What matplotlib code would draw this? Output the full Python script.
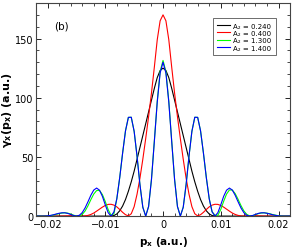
import matplotlib
matplotlib.use("Agg")
import matplotlib.pyplot as plt
from matplotlib.ticker import MultipleLocator

px = [-0.0220, -0.0215, -0.0210, -0.0205, -0.0200, -0.0195, -0.0190, -0.0185, -0.0180,
      -0.0175, -0.0170, -0.0165, -0.0160, -0.0155, -0.0150, -0.0145, -0.0140, -0.0135,
      -0.0130, -0.0125, -0.0120, -0.0115, -0.0110, -0.0105, -0.0100, -0.0095, -0.0090,
      -0.0085, -0.0080, -0.0075, -0.0070, -0.0065, -0.0060, -0.0055, -0.0050, -0.0045,
      -0.0040, -0.0035, -0.0030, -0.0025, -0.0020, -0.0015, -0.0010, -0.0005, 0.0,
      0.0005, 0.0010, 0.0015, 0.0020, 0.0025, 0.0030, 0.0035, 0.0040, 0.0045, 0.0050,
      0.0055, 0.0060, 0.0065, 0.0070, 0.0075, 0.0080, 0.0085, 0.0090, 0.0095, 0.0100,
      0.0105, 0.0110, 0.0115, 0.0120, 0.0125, 0.0130, 0.0135, 0.0140, 0.0145, 0.0150,
      0.0155, 0.0160, 0.0165, 0.0170, 0.0175, 0.0180, 0.0185, 0.0190, 0.0195, 0.0200,
      0.0205, 0.0210, 0.0215, 0.0220]

gamma_a0240 = [0, 0, 0, 0, 0, 0, 0, 0, 0, 0, 0, 0, 0, 0, 0, 0, 0, 0, 0, 0, 0, 0, 0, 0, 0, 0,
               0.05, 0.5, 1.8, 4.5, 8.5, 14, 21, 29, 38, 48, 58, 68, 78, 88, 98, 108, 117, 123,
               125,
               123, 117, 108, 98, 88, 78, 68, 58, 48, 38, 29, 21, 14, 8.5, 4.5, 1.8, 0.5, 0.05,
               0, 0, 0, 0, 0, 0, 0, 0, 0, 0, 0, 0, 0, 0, 0, 0, 0, 0, 0, 0, 0, 0, 0, 0, 0, 0]

gamma_a0400 = [0, 0, 0, 0, 0, 0, 0, 0, 0, 0, 0.1, 0.2, 0.3, 0.3, 0.2, 0.1, 0, 0.15, 0.6, 1.4,
               2.6, 4.2, 5.9, 7.6, 9.0, 9.9, 10.0, 9.3, 7.8, 5.6, 3.2, 1.2, 0.2, 2, 8, 18.5, 32,
               48, 65.5, 84, 104, 126, 149, 165,
               170,
               165, 149, 126, 104, 84, 65.5, 48, 32, 18.5, 8, 2, 0.2, 1.2, 3.2, 5.6, 7.8, 9.3,
               10.0, 9.9, 9.0, 7.6, 5.9, 4.2, 2.6, 1.4, 0.6, 0.15, 0, 0.1, 0.2, 0.3, 0.3, 0.2,
               0.1, 0, 0, 0, 0, 0, 0, 0, 0, 0, 0]

gamma_a1300 = [0.1, 0.05, 0.02, 0, 0.1, 0.4, 0.9, 1.5, 2.1, 2.6, 2.8, 2.5, 1.8, 0.8, 0.1, 0.14,
               1.4, 4.3, 8.7, 13.9, 18.6, 21.6, 21.7, 18.2, 12.3, 5.5, 0.7, 2.0, 14.7, 32.5,
               53.2, 72.0, 83.4, 83.5, 71.6, 50.6, 26.7, 7.5, 0, 8.1, 31.2, 63.8, 97.2, 122.0,
               131.5,
               122.0, 97.2, 63.8, 31.2, 8.1, 0, 7.5, 26.7, 50.6, 71.6, 83.5, 83.4, 72.0, 53.2,
               32.5, 14.7, 3.6, 0.8, 0.7, 5.6, 12.5, 18.6, 22.1, 22.0, 19.0, 14.2, 8.9, 4.4,
               1.5, 0.15, 0.3, 1.2, 2.1, 2.6, 2.8, 2.5, 2.0, 1.3, 0.8, 0.3, 0.1, 0, 0.02, 0.06]

gamma_a1400 = [0.08, 0.03, 0, 0.05, 0.2, 0.6, 1.1, 1.8, 2.4, 2.8, 2.8, 2.3, 1.4, 0.5, 0, 0.7,
               2.9, 6.9, 12.1, 17.6, 22.0, 23.7, 21.9, 16.7, 9.5, 2.9, 0, 3.6, 14.7, 32.5, 53.2,
               72.0, 83.4, 83.5, 71.6, 50.6, 26.7, 7.5, 0, 8.1, 30.9, 63.2, 96.3, 120.9,
               130,
               120.9, 96.3, 63.2, 30.9, 8.1, 0, 7.5, 26.7, 50.6, 71.6, 83.5, 83.4, 72.0, 53.2,
               32.5, 14.7, 3.6, 0, 2.9, 9.5, 16.7, 21.9, 23.7, 22.0, 17.6, 12.1, 6.9, 2.9, 0.7,
               0, 0.5, 1.4, 2.3, 2.8, 2.8, 2.4, 1.8, 1.1, 0.6, 0.2, 0.05, 0, 0.03, 0.08]

series = [
    (gamma_a0240, "A\u2082 = 0.240", "black"),
    (gamma_a0400, "A\u2082 = 0.400", "#ff0000"),
    (gamma_a1300, "A\u2082 = 1.300", "#00ff00"),
    (gamma_a1400, "A\u2082 = 1.400", "#0000ff"),
]

xticks = [-0.02, -0.01, 0, 0.01, 0.02]
xticklabels = ["\u22120.02", "\u22120.01", "0", "0.01", "0.02"]
yticks = [0, 50, 100, 150]

fig = plt.figure(figsize=(3.05, 2.51), dpi=100)
ax = fig.add_axes([0.118, 0.135, 0.833, 0.849])

for vals, lab, col in series:
    ax.plot(px, vals, color=col, lw=0.8, label=lab)

ax.set_xlim(-0.022, 0.022)
ax.set_ylim(0, 180)
ax.set_xticks(xticks)
ax.set_xticklabels(xticklabels)
ax.set_yticks(yticks)
ax.xaxis.set_minor_locator(MultipleLocator(0.002))
ax.yaxis.set_minor_locator(MultipleLocator(10))
ax.tick_params(which="both", direction="in", top=True, right=True, labelsize=7, pad=2)
ax.tick_params(which="major", length=3.5, width=0.6)
ax.tick_params(which="minor", length=2, width=0.5)
for s in ax.spines.values():
    s.set_linewidth(0.8)
    s.set_color("#444444")

ax.set_xlabel(r"$\mathbf{p_x}$ (a.u.)", fontsize=7.5, fontweight="bold")
ax.xaxis.set_label_coords(0.5, -0.085)
ax.set_ylabel(r"$\mathbf{\gamma_x(p_x)}$ (a.u.)", fontsize=8, fontweight="bold")
ax.yaxis.set_label_coords(-0.088, 0.5)

ax.text(0.07, 0.895, "(b)", transform=ax.transAxes, fontsize=7.5, va="center")

leg = ax.legend(loc="upper right", bbox_to_anchor=(0.944, 0.928), borderaxespad=0,
                fontsize=5, handlelength=1.9, handletextpad=0.5, labelspacing=0.2,
                borderpad=0.6, fancybox=False, framealpha=1)
leg.get_frame().set_edgecolor("#555555")
leg.get_frame().set_linewidth(0.6)

fig.savefig("out.png", dpi=100)
